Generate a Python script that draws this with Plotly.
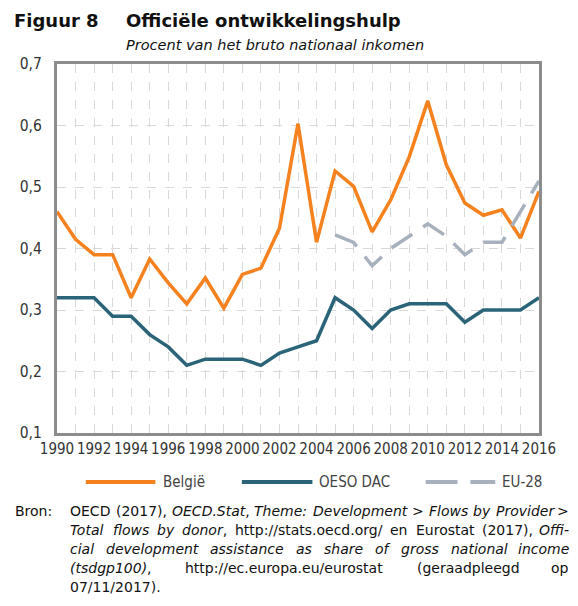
import re
import plotly.graph_objects as go

# data
years = list(range(1990, 2017))
belgie = [0.46, 0.415, 0.39, 0.39, 0.32, 0.383, 0.344, 0.31, 0.352, 0.303,
          0.358, 0.368, 0.433, 0.603, 0.41, 0.526, 0.501, 0.427, 0.479, 0.549,
          0.64, 0.536, 0.474, 0.454, 0.463, 0.417, 0.493]
oeso_dac = [0.32, 0.32, 0.32, 0.29, 0.29, 0.26, 0.24, 0.21, 0.22, 0.22,
            0.22, 0.21, 0.23, 0.24, 0.25, 0.32, 0.30, 0.27, 0.30, 0.31,
            0.31, 0.31, 0.28, 0.30, 0.30, 0.30, 0.32]
eu28_years = list(range(2005, 2017))
eu28 = [0.422, 0.41, 0.372, 0.40, 0.42, 0.44, 0.42, 0.39, 0.41, 0.41, 0.46, 0.51]
y_ticks = [0.1, 0.2, 0.3, 0.4, 0.5, 0.6, 0.7]

ORANGE = "#f5821f"
TEAL = "#2b6478"
GREY = "#a7b1bd"
AXIS = "#8c8c8c"
GRID = "#d9d9d9"
COND = "DejaVu Sans Condensed, DejaVu Sans, sans-serif"
SANS = "DejaVu Sans, sans-serif"

# the page body has an 8px margin, so the figure is 8px smaller
W, H = 570, 598
L, R, T, B = 46, 39, 56, 173
PW, PH = W - L - R, H - T - B


# positions below are in pixels of the 578x606 window
def px(x):
    return (x - 8 - L) / PW


def py(y):
    return (H - B - (y - 8)) / PH


fig = go.Figure()
fig.add_trace(go.Scatter(x=years, y=belgie, mode="lines", name="België",
                         line=dict(color=ORANGE, width=3.5)))
fig.add_trace(go.Scatter(x=years, y=oeso_dac, mode="lines", name="OESO DAC",
                         line=dict(color=TEAL, width=3.5)))
fig.add_trace(go.Scatter(x=eu28_years, y=eu28, mode="lines", name="EU-28",
                         line=dict(color=GREY, width=3.5, dash="25px,13px")))

tick_text = [str(y) if y % 2 == 0 else "" for y in years]

fig.update_layout(
    width=W, height=H,
    margin=dict(l=L, r=R, t=T, b=B),
    plot_bgcolor="white", paper_bgcolor="white",
    separators=", ",
    showlegend=False,
    font=dict(family=SANS, color="#333333", size=14),
    xaxis=dict(range=[1990, 2016], tickvals=years, ticktext=tick_text,
               showgrid=True, gridcolor=GRID, griddash="dash", gridwidth=1,
               showline=True, linecolor=AXIS, linewidth=3, mirror=True,
               ticks="", tickangle=0, zeroline=False, ticklabelstandoff=0,
               tickfont=dict(size=15, color="#333333", family=COND)),
    yaxis=dict(range=[0.1, 0.7], tickvals=y_ticks, tickformat=".1f",
               showgrid=True, gridcolor=GRID, griddash="dash", gridwidth=1,
               showline=True, linecolor=AXIS, linewidth=3, mirror=True,
               ticks="", zeroline=False, ticklabelstandoff=9,
               tickfont=dict(size=15.5, color="#333333", family=COND)),
)

ann = []
# titles
title_font = dict(size=18, color="#111111", family=SANS)
ann.append(dict(x=px(10), y=py(20), text="<b>Figuur 8</b>", font=title_font))
ann.append(dict(x=px(122), y=py(20), text="<b>Officiële ontwikkelingshulp</b>", font=title_font))
ann.append(dict(x=px(122), y=py(45), text="<i>Procent van het bruto nationaal inkomen</i>",
                font=dict(size=14.5, color="#111111", family=SANS)))

# legend
leg_y = py(482)
seg = [(83, 153, ORANGE), (240, 311, TEAL), (425, 457, GREY), (470, 495, GREY)]
for x0, x1, color in seg:
    fig.add_shape(type="line", xref="paper", yref="paper", x0=px(x0), x1=px(x1),
                  y0=leg_y, y1=leg_y, line=dict(color=color, width=4))
for name, xt in [("België", 160), ("OESO DAC", 317), ("EU-28", 501)]:
    ann.append(dict(x=px(xt), y=leg_y, text=name, font=dict(size=15, color="#444444", family=COND)))

# source text, justified by hand (approximate DejaVu Sans advance widths in em)
CW = {" ": .318, "(": .39, ")": .39, ",": .318, "-": .361, ".": .318, "/": .337, ":": .337,
      ">": .838, "A": .684, "C": .698, "D": .77, "E": .632, "F": .575, "O": .787, "P": .603,
      "S": .635, "T": .611, "a": .613, "b": .635, "c": .55, "d": .635, "e": .615, "f": .352,
      "g": .635, "h": .634, "i": .278, "k": .579, "l": .278, "m": .974, "n": .634, "o": .612,
      "p": .635, "r": .411, "s": .521, "t": .392, "u": .634, "v": .592, "w": .818, "y": .592}
SRC_SIZE = 14
X0, X1 = 66, 570


def text_width(s):
    plain = re.sub(r"<[^>]+>", "", s).replace("&gt;", ">")
    return sum(CW.get(c, .636) for c in plain) * SRC_SIZE


src_lines = [
    (511, ["OECD", "(2017),", "<i>OECD.Stat</i>,", "<i>Theme:</i>", "<i>Development</i>", "<i>&gt;</i>",
           "<i>Flows</i>", "<i>by</i>", "<i>Provider</i>", "<i>&gt;</i>"], True),
    (530, ["<i>Total</i>", "<i>flows</i>", "<i>by</i>", "<i>donor</i>,", "http://stats.oecd.org/", "en",
           "Eurostat", "(2017),", "<i>Offi-</i>"], True),
    (549, ["<i>cial</i>", "<i>development</i>", "<i>assistance</i>", "<i>as</i>", "<i>share</i>",
           "<i>of</i>", "<i>gross</i>", "<i>national</i>", "<i>income</i>"], True),
    (568, ["<i>(tsdgp100)</i>,", "http://ec.europa.eu/eurostat", "(geraadpleegd", "op"], True),
    (587, ["07/11/2017)."], False),
]

src_font = dict(size=SRC_SIZE, color="#111111", family=SANS)
ann.append(dict(x=px(11), y=py(511), text="Bron:", font=src_font))
for y, words, justify in src_lines:
    widths = [text_width(w) for w in words]
    if justify:
        gap = (X1 - X0 - sum(widths)) / (len(words) - 1)
    else:
        gap = CW[" "] * SRC_SIZE
    x = X0
    for i, (w, wd) in enumerate(zip(words, widths)):
        if justify and i == len(words) - 1:
            ann.append(dict(x=px(X1), y=py(y), text=w, font=src_font, xanchor="right"))
        else:
            ann.append(dict(x=px(x), y=py(y), text=w, font=src_font))
        x += wd + gap

for a in ann:
    a.setdefault("xanchor", "left")
    a.update(xref="paper", yref="paper", yanchor="middle", showarrow=False, borderpad=0)
fig.update_layout(annotations=ann)

fig.write_html("out.html")
